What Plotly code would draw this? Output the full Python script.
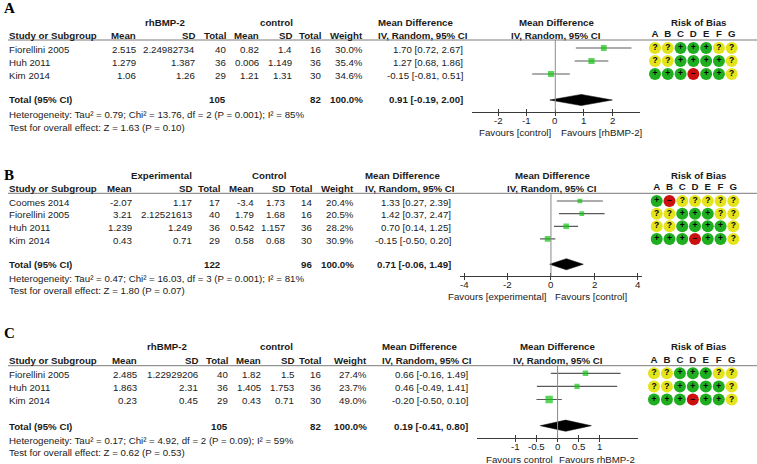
import math
import plotly.graph_objects as go

W, H = 757, 464
FONT = "Arial, Liberation Sans, sans-serif"
SERIF = "Times New Roman, Liberation Serif, serif"
FS = 9.7
TXT = "#1a1a1a"

# ---------------- Panel A data ----------------
a_title = "A"
a_groups = ["rhBMP-2", "control"]
a_studies = ["Fiorellini 2005", "Huh 2011", "Kim 2014"]
a_exp_mean = [2.515, 1.279, 1.06]
a_exp_sd = [2.24982734, 1.387, 1.26]
a_exp_n = [40, 36, 29]
a_ctl_mean = [0.82, 0.006, 1.21]
a_ctl_sd = [1.4, 1.149, 1.31]
a_ctl_n = [16, 36, 30]
a_weight = [30.0, 35.4, 34.6]
a_md = [1.70, 1.27, -0.15]
a_lo = [0.72, 0.68, -0.81]
a_hi = [2.67, 1.86, 0.51]
a_total = [105, 82]
a_pooled = [0.91, -0.19, 2.00]
a_het = "Heterogeneity: Tau² = 0.79; Chi² = 13.76, df = 2 (P = 0.001); I² = 85%"
a_test = "Test for overall effect: Z = 1.63 (P = 0.10)"
a_ticks = [-2, -1, 0, 1, 2]
a_favours = ["Favours [control]", "Favours [rhBMP-2]"]
a_rob = [["?", "?", "+", "+", "+", "?", "?"],
         ["?", "?", "+", "+", "+", "+", "?"],
         ["+", "+", "+", "-", "+", "+", "?"]]

# ---------------- Panel B data ----------------
b_title = "B"
b_groups = ["Experimental", "Control"]
b_studies = ["Coomes 2014", "Fiorellini 2005", "Huh 2011", "Kim 2014"]
b_exp_mean = [-2.07, 3.21, 1.239, 0.43]
b_exp_sd = [1.17, 2.12521613, 1.249, 0.71]
b_exp_n = [17, 40, 36, 29]
b_ctl_mean = [-3.4, 1.79, 0.542, 0.58]
b_ctl_sd = [1.73, 1.68, 1.157, 0.68]
b_ctl_n = [14, 16, 36, 30]
b_weight = [20.4, 20.5, 28.2, 30.9]
b_md = [1.33, 1.42, 0.70, -0.15]
b_lo = [0.27, 0.37, 0.14, -0.50]
b_hi = [2.39, 2.47, 1.25, 0.20]
b_total = [122, 96]
b_pooled = [0.71, -0.06, 1.49]
b_het = "Heterogeneity: Tau² = 0.47; Chi² = 16.03, df = 3 (P = 0.001); I² = 81%"
b_test = "Test for overall effect: Z = 1.80 (P = 0.07)"
b_ticks = [-4, -2, 0, 2, 4]
b_favours = ["Favours [experimental]", "Favours [control]"]
b_rob = [["+", "-", "?", "?", "?", "?", "?"],
         ["?", "?", "+", "+", "+", "?", "?"],
         ["?", "?", "+", "+", "+", "+", "?"],
         ["+", "+", "+", "-", "+", "+", "?"]]

# ---------------- Panel C data ----------------
c_title = "C"
c_groups = ["rhBMP-2", "control"]
c_studies = ["Fiorellini 2005", "Huh 2011", "Kim 2014"]
c_exp_mean = [2.485, 1.863, 0.23]
c_exp_sd = [1.22929206, 2.31, 0.45]
c_exp_n = [40, 36, 29]
c_ctl_mean = [1.82, 1.405, 0.43]
c_ctl_sd = [1.5, 1.753, 0.71]
c_ctl_n = [16, 36, 30]
c_weight = [27.4, 23.7, 49.0]
c_md = [0.66, 0.46, -0.20]
c_lo = [-0.16, -0.49, -0.50]
c_hi = [1.49, 1.41, 0.10]
c_total = [105, 82]
c_pooled = [0.19, -0.41, 0.80]
c_het = "Heterogeneity: Tau² = 0.17; Chi² = 4.92, df = 2 (P = 0.09); I² = 59%"
c_test = "Test for overall effect: Z = 0.62 (P = 0.53)"
c_ticks = [-1, -0.5, 0, 0.5, 1]
c_favours = ["Favours control", "Favours rhBMP-2"]
c_rob = [["?", "?", "+", "+", "+", "?", "?"],
         ["?", "?", "+", "+", "+", "+", "?"],
         ["+", "+", "+", "-", "+", "+", "?"]]

col_headers = ["Mean", "SD", "Total", "Mean", "SD", "Total", "Weight"]
rob_letters = ["A", "B", "C", "D", "E", "F", "G"]

panels = [
    dict(title=a_title, groups=a_groups, studies=a_studies, em=a_exp_mean, esd=a_exp_sd, en=a_exp_n,
         cm=a_ctl_mean, csd=a_ctl_sd, cn=a_ctl_n, w=a_weight, md=a_md, lo=a_lo, hi=a_hi,
         total=a_total, pooled=a_pooled, het=a_het, test=a_test, ticks=a_ticks, fav=a_favours, rob=a_rob),
    dict(title=b_title, groups=b_groups, studies=b_studies, em=b_exp_mean, esd=b_exp_sd, en=b_exp_n,
         cm=b_ctl_mean, csd=b_ctl_sd, cn=b_ctl_n, w=b_weight, md=b_md, lo=b_lo, hi=b_hi,
         total=b_total, pooled=b_pooled, het=b_het, test=b_test, ticks=b_ticks, fav=b_favours, rob=b_rob),
    dict(title=c_title, groups=c_groups, studies=c_studies, em=c_exp_mean, esd=c_exp_sd, en=c_exp_n,
         cm=c_ctl_mean, csd=c_ctl_sd, cn=c_ctl_n, w=c_weight, md=c_md, lo=c_lo, hi=c_hi,
         total=c_total, pooled=c_pooled, het=c_het, test=c_test, ticks=c_ticks, fav=c_favours, rob=c_rob),
]

# ---------------- layout geometry (pixels) ----------------
geoms = [
    dict(label_y=8, grp_y=22, hdr_y=35, line_y=40, row0=48, dy=13, total_y=100, het_y=114, test_y=127,
         axis_y=111.7, fav_y=132, cols=[137, 196, 227, 260, 293, 322, 364], grp_c=[165, 276],
         md_l=377, md_r=463.7, fx=(472, 640), frange=(-2.92, 2.97), fhdr_c=556, fav_c=(515, 601),
         rob_x=(648.6, 738.1), rob_c=698),
    dict(label_y=175, grp_y=175, hdr_y=188.3, line_y=193.3, row0=201, dy=12.65, total_y=264.3, het_y=278.3,
         test_y=290.7, axis_y=276, fav_y=296, cols=[133.3, 192.7, 221, 255, 285.7, 313.3, 355],
         grp_c=[161.7, 269], md_l=364, md_r=451.7, fx=(460, 641.7), frange=(-4.19, 4.18), fhdr_c=552,
         fav_c=(497, 591), rob_x=(650.3, 739.7), rob_c=698),
    dict(label_y=333, grp_y=346.7, hdr_y=360.7, line_y=365.7, row0=373.3, dy=13.1, total_y=426.7,
         het_y=440.7, test_y=452.7, axis_y=438.3, fav_y=459.3, cols=[137.7, 199, 229.3, 261.7, 295, 322.3, 368.3],
         grp_c=[166.7, 276], md_l=381, md_r=469, fx=(477.3, 638.3), frange=(-1.9, 1.91), fhdr_c=557.5,
         fav_c=(519.3, 596.7), rob_x=(647.5, 738.2), rob_c=698.3),
]


def px(x):
    return x / W


def py(y):
    return 1 - y / H


annotations = []
shapes = []


def add_text(x, y, s, anchor="left", bold=False, size=FS, family=FONT, color=TXT, xref="paper"):
    annotations.append(dict(
        x=px(x) if xref == "paper" else x, y=py(y), xref=xref, yref="paper",
        text=("<b>%s</b>" % s) if bold else s,
        showarrow=False, xanchor=anchor, yanchor="middle", borderpad=0,
        font=dict(family=family, size=size, color=color)))


fig = go.Figure()
layout_axes = {}
ROB_COL = {"+": "#1fae1f", "?": "#e4e41c", "-": "#cc1010"}
ROB_SYM = {"+": "<b>+</b>", "?": "<b>?</b>", "-": "<b>−</b>"}

for k, (p, g) in enumerate(zip(panels, geoms)):
    n = len(p["studies"])
    yid = "y" if k == 0 else "y%d" % (k + 1)
    yname = "yaxis" if k == 0 else "yaxis%d" % (k + 1)
    xf = 3 * k + 1
    xo = 3 * k + 2
    xr = 3 * k + 3
    xf_id, xo_id, xr_id = "x%d" % xf if xf > 1 else "x", "x%d" % xo, "x%d" % xr
    xf_name = "xaxis%d" % xf if xf > 1 else "xaxis"

    y_top = (g["line_y"] - g["row0"]) / g["dy"]
    y_bot = (g["axis_y"] - g["row0"]) / g["dy"]
    layout_axes[yname] = dict(domain=[py(g["axis_y"]), py(g["line_y"])], range=[y_bot, y_top], visible=False)

    layout_axes[xf_name] = dict(
        domain=[px(g["fx"][0]), px(g["fx"][1])], range=list(g["frange"]), anchor=yid,
        showgrid=False, zeroline=False, showline=True, linecolor="#3a3a3a", linewidth=1,
        ticks="outside", ticklen=3, tickcolor="#3a3a3a", tickwidth=1,
        tickvals=p["ticks"], showticklabels=False, fixedrange=True)
    layout_axes["xaxis%d" % xo] = dict(
        overlaying=xf_id, anchor=yid, range=list(g["frange"]), showgrid=False, zeroline=False,
        showline=False, ticks="inside", ticklen=3, tickcolor="#3a3a3a", tickwidth=1,
        tickvals=p["ticks"], showticklabels=False)
    layout_axes["xaxis%d" % xr] = dict(
        domain=[px(g["rob_x"][0]), px(g["rob_x"][1])], range=[-0.5, 6.5], anchor=yid, side="top",
        type="category", categoryorder="array", categoryarray=rob_letters,
        showgrid=False, zeroline=False, showline=False, ticks="",
        tickfont=dict(family=FONT, size=FS, color=TXT, weight="bold"))

    # tick labels of the forest axis (placed at the tick values)
    for t in p["ticks"]:
        add_text(t, g["axis_y"] + 8.4, "%g" % t, anchor="center", xref=xf_id)

    rows = list(range(n))
    # zero line
    shapes.append(dict(type="line", xref=xf_id, yref=yid + " domain", x0=0, x1=0, y0=0, y1=1,
                       line=dict(color="#8a8a8a", width=1)))
    # study estimates with CI
    fig.add_trace(go.Scatter(
        x=p["md"], y=rows, xaxis=xf_id, yaxis=yid, mode="markers",
        marker=dict(symbol="square", color="#12c412", size=[math.sqrt(w) * 1.05 for w in p["w"]],
                    line=dict(width=0)),
        error_x=dict(type="data", symmetric=False,
                     array=[h - m for h, m in zip(p["hi"], p["md"])],
                     arrayminus=[m - l for m, l in zip(p["md"], p["lo"])],
                     color="#5a5a5a", thickness=1.2, width=0),
        showlegend=False, hoverinfo="skip"))
    # pooled diamond
    pm, pl, ph = p["pooled"]
    tr = n + 1
    hh = 5.6 / g["dy"]
    fig.add_trace(go.Scatter(
        x=[pl, pm, ph, pm, pl], y=[tr, tr - hh, tr, tr + hh, tr], xaxis=xf_id, yaxis=yid,
        mode="lines", fill="toself", fillcolor="#000000", line=dict(color="#000000", width=0.5),
        showlegend=False, hoverinfo="skip"))
    # overlay axis helper (empty)
    fig.add_trace(go.Scatter(x=[], y=[], xaxis=xo_id, yaxis=yid, showlegend=False, hoverinfo="skip"))
    # risk of bias
    rx, ry, rc, rt = [], [], [], []
    for i, row in enumerate(p["rob"]):
        for j, v in enumerate(row):
            rx.append(rob_letters[j])
            ry.append(i)
            rc.append(ROB_COL[v])
            rt.append(ROB_SYM[v])
    fig.add_trace(go.Scatter(
        x=rx, y=ry, xaxis=xr_id, yaxis=yid, mode="markers+text", text=rt, textposition="middle center",
        textfont=dict(family=FONT, size=8.5, color="#000000"),
        marker=dict(symbol="circle", size=12, color=rc, line=dict(width=0)),
        showlegend=False, hoverinfo="skip"))

    # ---------------- texts ----------------
    add_text(3, g["label_y"], p["title"], bold=True, size=15, family=SERIF, color="#000000")
    add_text(g["grp_c"][0], g["grp_y"], p["groups"][0], anchor="center", bold=True)
    add_text(g["grp_c"][1], g["grp_y"], p["groups"][1], anchor="center", bold=True)
    add_text(8, g["hdr_y"], "Study or Subgroup", bold=True)
    for cx, h in zip(g["cols"], col_headers):
        add_text(cx, g["hdr_y"], h, anchor="right", bold=True)
    add_text(g["md_l"], g["grp_y"], "Mean Difference", bold=True)
    add_text(g["md_l"], g["hdr_y"], "IV, Random, 95% CI", bold=True)
    add_text(g["fhdr_c"], g["grp_y"], "Mean Difference", anchor="center", bold=True)
    add_text(g["fhdr_c"], g["hdr_y"], "IV, Random, 95% CI", anchor="center", bold=True)
    add_text(g["rob_c"], g["grp_y"], "Risk of Bias", anchor="center", bold=True)
    shapes.append(dict(type="line", xref="paper", yref="paper", x0=px(8), x1=1,
                       y0=py(g["line_y"]), y1=py(g["line_y"]), line=dict(color="#7a7a7a", width=1)))

    for i in range(n):
        yy = g["row0"] + i * g["dy"] + 1.3
        add_text(8, yy, p["studies"][i])
        vals = [str(p["em"][i]), str(p["esd"][i]), str(p["en"][i]), str(p["cm"][i]),
                str(p["csd"][i]), str(p["cn"][i]), "%.1f%%" % p["w"][i]]
        for cx, v in zip(g["cols"], vals):
            add_text(cx, yy, v, anchor="right")
        add_text(g["md_r"], yy, "%.2f [%.2f, %.2f]" % (p["md"][i], p["lo"][i], p["hi"][i]), anchor="right")

    ty = g["total_y"]
    add_text(8, ty, "Total (95% CI)", bold=True)
    add_text(g["cols"][2], ty, str(p["total"][0]), anchor="right", bold=True)
    add_text(g["cols"][5], ty, str(p["total"][1]), anchor="right", bold=True)
    add_text(g["cols"][6], ty, "100.0%", anchor="right", bold=True)
    add_text(g["md_r"], ty, "%.2f [%.2f, %.2f]" % (pm, pl, ph), anchor="right", bold=True)
    add_text(8, g["het_y"], p["het"])
    add_text(8, g["test_y"], p["test"])
    add_text(g["fav_c"][0], g["fav_y"], p["fav"][0], anchor="center")
    add_text(g["fav_c"][1], g["fav_y"], p["fav"][1], anchor="center")

fig.update_layout(
    width=W, height=H, margin=dict(l=0, r=0, t=0, b=0),
    paper_bgcolor="white", plot_bgcolor="rgba(0,0,0,0)",
    annotations=annotations, shapes=shapes, showlegend=False,
    font=dict(family=FONT, size=FS, color=TXT),
    **layout_axes)

fig.write_html("out.html", config={"displayModeBar": False},
               post_script="document.body.style.margin='0';document.body.style.overflow='hidden';")
